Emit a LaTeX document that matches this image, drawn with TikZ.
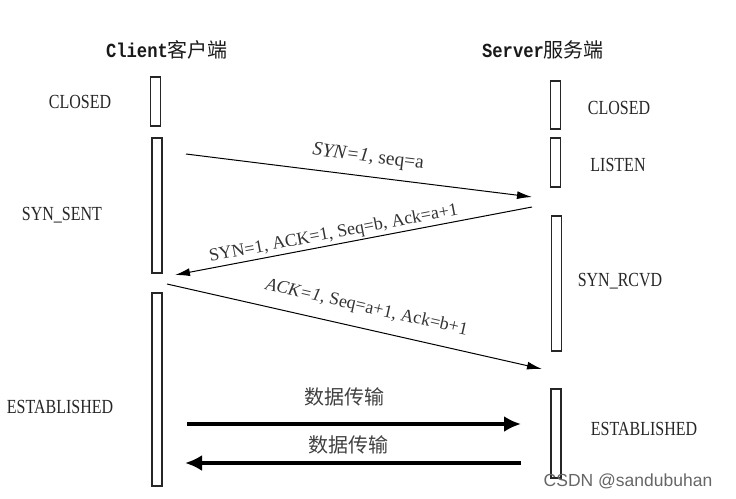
\documentclass[tikz,border=0pt]{standalone}
\usepackage{fontspec}
\usetikzlibrary{arrows.meta,positioning}
\setmainfont{Liberation Serif}
\newfontfamily\cjkfont{Noto Sans CJK SC}
\newfontfamily\headfont[FakeStretch=0.86]{Liberation Mono}
\newfontfamily\statefont[FakeStretch=0.8]{Liberation Serif}
\newfontfamily\markfont{Liberation Sans}

\begin{document}
\begin{tikzpicture}[x=1pt,y=-1pt]
		
		% Setup the styles
		\tikzset{bar style/.style={draw=black!85,
				line width=1.2pt,
				fill=white,
				minimum width=10pt,
				inner sep=0pt},
			state style/.style={font=\statefont\fontsize{20}{20}\selectfont,
				text=black!85,
				inner sep=0pt},
			head style/.style={font=\fontsize{20}{20}\selectfont,
				text=black!90,
				inner sep=0pt},
			msg style/.style={font=\fontsize{18}{18}\selectfont,
				text=black!80,
				inner sep=0pt},
			data style/.style={font=\cjkfont\fontsize{20}{20}\selectfont,
				text=black!75,
				inner sep=0pt}}
		
		\useasboundingbox (0,0) rectangle (736,498);
		
		% Draw the headers
		\node[head style] at (167, 50) (client) {{\headfont\bfseries Client}{\cjkfont 客户端}};
		\node[head style] at (543, 50) (server) {{\headfont\bfseries Server}{\cjkfont 服务端}};
		
		% Draw the bars
		\node[bar style, minimum height=49pt]  at (155.5, 101.5) (cclosed) {};
		\node[bar style, minimum height=135pt] at (157, 205.5)   (csent)   {};
		\node[bar style, minimum height=193pt] at (157, 389.5)   (cest)    {};
		\node[bar style, minimum height=48pt]  at (555.5, 105)   (sclosed) {};
		\node[bar style, minimum height=49pt]  at (555.5, 162.5) (slisten) {};
		\node[bar style, minimum height=135pt] at (556.5, 283.5) (srcvd)   {};
		\node[bar style, minimum height=89pt]  at (556, 433.5)   (sest)    {};
		
		% Draw the states
		\node[state style] at (80, 102)  (lclosed) {CLOSED};
		\node[state style] at (62, 215)  (lsent)   {SYN\_SENT};
		\node[state style] at (60, 407)  (lest)    {ESTABLISHED};
		\node[state style] at (619, 108) (rclosed) {CLOSED};
		\node[state style] at (618, 165) (rlisten) {LISTEN};
		\node[state style] at (620, 281) (rrcvd)   {SYN\_RCVD};
		\node[state style] at (644, 429) (rest)    {ESTABLISHED};
		
		% Ends of the messages
		\coordinate (syn start) at (186, 154);
		\coordinate (syn end)   at (532, 197);
		\coordinate (sa start)  at (532, 207);
		\coordinate (sa end)    at (175, 275);
		\coordinate (ack start) at (167, 284);
		\coordinate (ack end)   at (542, 369);
		\coordinate (up start)  at (187, 424);
		\coordinate (up end)    at (521, 424);
		\coordinate (down start) at (521, 463);
		\coordinate (down end)  at (185, 463);
		
		% Connect the bars with arrows
		\draw[line width=1pt,
		-{Latex[length=15pt,width=8pt]}]
		(syn start) -- node[msg style, font=\fontsize{19.5}{19.5}\selectfont, sloped, above=10pt, pos=0.52] {\textit{SYN=1}, seq=a} (syn end);
		\draw[line width=1pt,
		-{Latex[length=15pt,width=8pt]}]
		(sa start) -- node[msg style, sloped, above=2pt, pos=0.55] {SYN=1, ACK=1, Seq=b, Ack=a+1} (sa end);
		\draw[line width=1pt,
		-{Latex[length=15pt,width=8pt]}]
		(ack start) -- node[msg style, sloped, above=12pt, pos=0.52] {\textit{ACK=1}, Seq=a+1, Ack=b+1} (ack end);
		\draw[line width=4pt,
		-{Latex[length=17pt,width=16pt]}]
		(up start) -- node[data style, above=16pt, xshift=-10pt] {数据传输} (up end);
		\draw[line width=4pt,
		-{Latex[length=17pt,width=16pt]}]
		(down start) -- node[data style, above=7pt, xshift=-5pt] {数据传输} (down end);
		
		% Watermark
		\node[font=\markfont\fontsize{17.5}{17.5}\selectfont, text=black!60, inner sep=0pt] at (628, 481) (mark) {CSDN @sandubuhan};
		\end{tikzpicture}
\end{document}
